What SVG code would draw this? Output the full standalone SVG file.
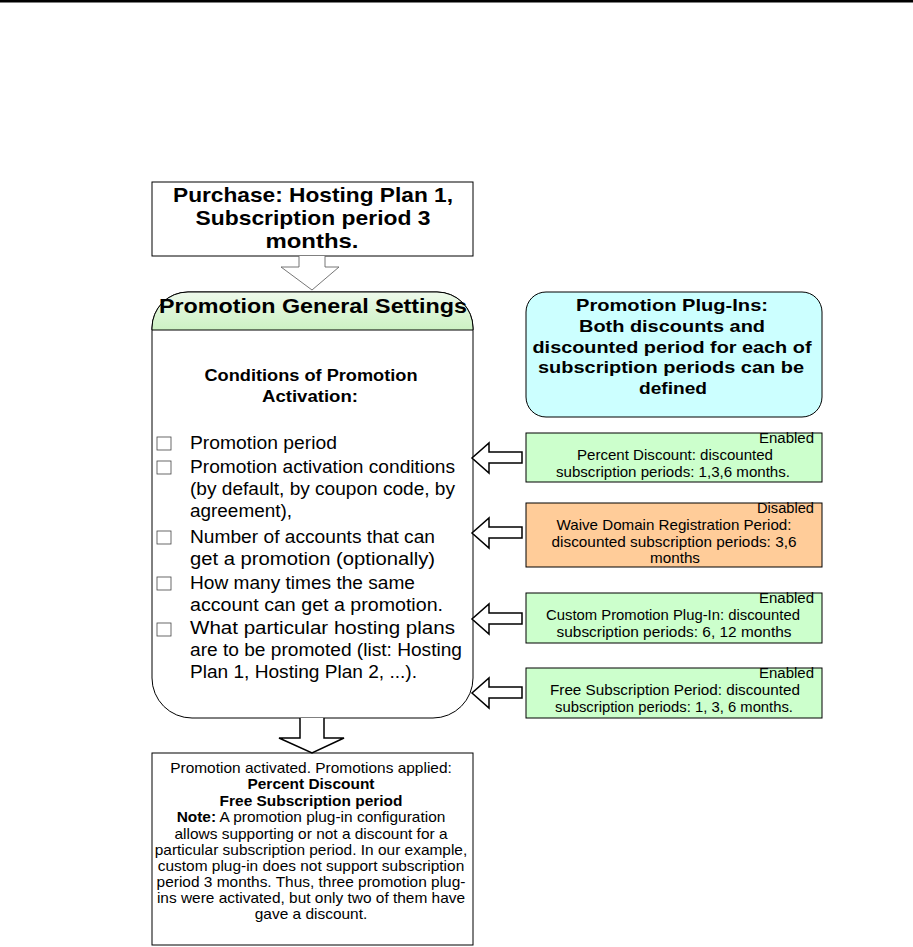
<svg xmlns="http://www.w3.org/2000/svg" width="913" height="947" viewBox="0 0 913 947">
<style>
text{font-family:"Liberation Sans",Arial,sans-serif;fill:#000}
.b{font-weight:bold}
.box{stroke:#000;stroke-width:1}
.arr{fill:#fff;stroke:#000;stroke-width:1.5;stroke-linejoin:miter}
.arrg{fill:#fff;stroke:#666;stroke-width:0.9}
.cb{fill:#fff;stroke:#444;stroke-width:0.8}
.it{font-size:17.5px}
.pl{font-size:14.5px;text-anchor:middle}
.st{font-size:14px;text-anchor:end}
.nt{font-size:13.8px;text-anchor:middle}
.pt{font-size:21px;font-weight:bold;text-anchor:middle}
.bt{font-size:16.5px;font-weight:bold;text-anchor:middle}
</style>
<defs>
<linearGradient id="hdr" x1="0" y1="0" x2="0" y2="1">
<stop offset="0" stop-color="#eef9eb"/>
<stop offset="1" stop-color="#ccf1c3"/>
</linearGradient>
</defs>
<rect x="0" y="0" width="913" height="2.5" fill="#000"/>

<g id="purchase">
<rect class="box" x="152" y="182" width="321" height="74" fill="#fff"/>
<text class="pt" x="313" y="202" textLength="280" lengthAdjust="spacingAndGlyphs">Purchase: Hosting Plan 1,</text>
<text class="pt" x="313" y="225" textLength="235" lengthAdjust="spacingAndGlyphs">Subscription period 3</text>
<text class="pt" x="312" y="248" textLength="93" lengthAdjust="spacingAndGlyphs">months.</text>
</g>

<g id="general-settings">
<path class="box" d="M152,328 A36,36 0 0 1 188,292 H437 A36,36 0 0 1 473,328 V678 A40,40 0 0 1 433,718 H192 A40,40 0 0 1 152,678 Z" fill="#fff"/>
<path d="M152,330 V328 A36,36 0 0 1 188,292 H437 A36,36 0 0 1 473,328 V330 Z" fill="url(#hdr)" stroke="#000" stroke-width="1"/>
<text class="b" font-size="19.5" text-anchor="middle" x="313" y="313" textLength="308" lengthAdjust="spacingAndGlyphs">Promotion General Settings</text>
<text class="b" font-size="16" text-anchor="middle" x="311" y="381" textLength="213" lengthAdjust="spacingAndGlyphs">Conditions of Promotion</text>
<text class="b" font-size="16" text-anchor="middle" x="310" y="402" textLength="96" lengthAdjust="spacingAndGlyphs">Activation:</text>
<rect class="cb" x="157" y="437" width="14" height="13"/>
<text class="it" x="190" y="449" textLength="147" lengthAdjust="spacingAndGlyphs">Promotion period</text>
<rect class="cb" x="157" y="461" width="14" height="13"/>
<text class="it" x="190" y="473" textLength="265" lengthAdjust="spacingAndGlyphs">Promotion activation conditions</text>
<text class="it" x="190" y="495" textLength="265" lengthAdjust="spacingAndGlyphs">(by default, by coupon code, by</text>
<text class="it" x="190" y="517" textLength="102" lengthAdjust="spacingAndGlyphs">agreement),</text>
<rect class="cb" x="157" y="531" width="14" height="13"/>
<text class="it" x="190" y="543" textLength="245" lengthAdjust="spacingAndGlyphs">Number of accounts that can</text>
<text class="it" x="190" y="565" textLength="245" lengthAdjust="spacingAndGlyphs">get a promotion (optionally)</text>
<rect class="cb" x="157" y="577" width="14" height="13"/>
<text class="it" x="190" y="589" textLength="225" lengthAdjust="spacingAndGlyphs">How many times the same</text>
<text class="it" x="190" y="611" textLength="253" lengthAdjust="spacingAndGlyphs">account can get a promotion.</text>
<rect class="cb" x="157" y="623" width="14" height="13"/>
<text class="it" x="190" y="634" textLength="265" lengthAdjust="spacingAndGlyphs">What particular hosting plans</text>
<text class="it" x="190" y="656" textLength="272" lengthAdjust="spacingAndGlyphs">are to be promoted (list: Hosting</text>
<text class="it" x="190" y="678" textLength="227" lengthAdjust="spacingAndGlyphs">Plan 1, Hosting Plan 2, ...).</text>
</g>

<g id="plugins-info">
<rect class="box" x="526" y="292" width="296" height="125" rx="20" ry="20" fill="#ccffff"/>
<text class="bt" x="672" y="311" textLength="192" lengthAdjust="spacingAndGlyphs">Promotion Plug-Ins:</text>
<text class="bt" x="672" y="332" textLength="186" lengthAdjust="spacingAndGlyphs">Both discounts and</text>
<text class="bt" x="672" y="353" textLength="279" lengthAdjust="spacingAndGlyphs">discounted period for each of</text>
<text class="bt" x="671" y="373" textLength="266" lengthAdjust="spacingAndGlyphs">subscription periods can be</text>
<text class="bt" x="673" y="394" textLength="68" lengthAdjust="spacingAndGlyphs">defined</text>
</g>

<g id="percent-discount">
<rect class="box" x="526" y="433" width="296" height="49" fill="#ccffcc"/>
<text class="st" x="814" y="443" textLength="55" lengthAdjust="spacingAndGlyphs">Enabled</text>
<text class="pl" x="675" y="460" textLength="196" lengthAdjust="spacingAndGlyphs">Percent Discount: discounted</text>
<text class="pl" x="673" y="477" textLength="234" lengthAdjust="spacingAndGlyphs">subscription periods: 1,3,6 months.</text>
</g>

<g id="waive-domain">
<rect class="box" x="526" y="503" width="296" height="64" fill="#ffcc99"/>
<text class="st" x="814" y="513" textLength="57" lengthAdjust="spacingAndGlyphs">Disabled</text>
<text class="pl" x="674" y="530" textLength="235" lengthAdjust="spacingAndGlyphs">Waive Domain Registration Period:</text>
<text class="pl" x="674" y="547" textLength="245" lengthAdjust="spacingAndGlyphs">discounted subscription periods: 3,6</text>
<text class="pl" x="675" y="563" textLength="50" lengthAdjust="spacingAndGlyphs">months</text>
</g>

<g id="custom-plugin">
<rect class="box" x="526" y="593" width="296" height="50" fill="#ccffcc"/>
<text class="st" x="814" y="603" textLength="55" lengthAdjust="spacingAndGlyphs">Enabled</text>
<text class="pl" x="673" y="620" textLength="254" lengthAdjust="spacingAndGlyphs">Custom Promotion Plug-In: discounted</text>
<text class="pl" x="674" y="637" textLength="235" lengthAdjust="spacingAndGlyphs">subscription periods: 6, 12 months</text>
</g>

<g id="free-subscription">
<rect class="box" x="526" y="668" width="296" height="50" fill="#ccffcc"/>
<text class="st" x="814" y="678" textLength="55" lengthAdjust="spacingAndGlyphs">Enabled</text>
<text class="pl" x="675" y="695" textLength="250" lengthAdjust="spacingAndGlyphs">Free Subscription Period: discounted</text>
<text class="pl" x="674" y="712" textLength="238" lengthAdjust="spacingAndGlyphs">subscription periods: 1, 3, 6 months.</text>
</g>

<g id="result">
<rect class="box" x="152" y="753" width="321" height="192" fill="#fff"/>
<g transform="translate(311,0) scale(1.12,1) translate(-311,0)">
<text class="nt" x="311" y="773">Promotion activated. Promotions applied:</text>
<text class="nt b" x="311" y="789">Percent Discount</text>
<text class="nt b" x="311" y="806">Free Subscription period</text>
<text class="nt" x="311" y="822"><tspan class="b">Note:</tspan> A promotion plug-in configuration</text>
<text class="nt" x="311" y="839">allows supporting or not a discount for a</text>
<text class="nt" x="311" y="855">particular subscription period. In our example,</text>
<text class="nt" x="311" y="871">custom plug-in does not support subscription</text>
<text class="nt" x="311" y="887">period 3 months. Thus, three promotion plug-</text>
<text class="nt" x="311" y="903">ins were activated, but only two of them have</text>
<text class="nt" x="311" y="919">gave a discount.</text>
</g>
</g>

<g id="connectors">
<path class="arrg" d="M299,256 V267 H281 L312,290 L339,267 H325 V256"/>
<path class="arr" d="M300,718 V738 H279 L312,753 L344,738 H324 V718"/>
<path class="arr" d="M522,452 H489 V443 L472,458 L489,473 V463 H522 Z"/>
<path class="arr" d="M522,527 H489 V518 L472,533 L489,548 V538 H522 Z"/>
<path class="arr" d="M522,613 H489 V604 L472,619 L489,634 V624 H522 Z"/>
<path class="arr" d="M522,687 H489 V678 L472,693 L489,708 V698 H522 Z"/>
</g>
</svg>
